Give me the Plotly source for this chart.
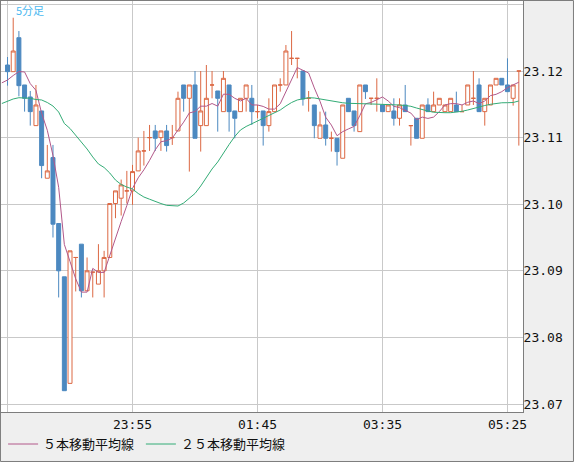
import pandas as pd
import plotly.graph_objects as go

# 5分足 bars, 22:05 -> 05:35
open_ = [23.1209, 23.1199, 23.1250, 23.1179, 23.1161, 23.1118, 23.1140, 23.1039, 23.1070, 23.0971,
         23.0891, 23.0731, 23.0920, 23.0940, 23.0870, 23.0898, 23.0880, 23.0900, 23.0920, 23.1001,
         23.1009, 23.1020, 23.1020, 23.1050, 23.1080, 23.1100, 23.1110, 23.1100, 23.1110, 23.1100,
         23.1110, 23.1179, 23.1159, 23.1179, 23.1118, 23.1118, 23.1179, 23.1170, 23.1139, 23.1179,
         23.1140, 23.1139, 23.1159, 23.1159, 23.1139, 23.1140, 23.1118, 23.1139, 23.1179, 23.1179,
         23.1219, 23.1219, 23.1200, 23.1159, 23.1149, 23.1099, 23.1119, 23.1099, 23.1099, 23.1069,
         23.1159, 23.1140, 23.1109, 23.1179, 23.1159, 23.1159, 23.1149, 23.1139, 23.1140, 23.1129,
         23.1149, 23.1118, 23.1129, 23.1099, 23.1149, 23.1139, 23.1149, 23.1139, 23.1139, 23.1149,
         23.1139, 23.1149, 23.1159, 23.1179, 23.1139, 23.1149, 23.1179, 23.1189, 23.1179, 23.1159,
         23.1200]
high = [23.1221, 23.1280, 23.1260, 23.1179, 23.1170, 23.1179, 23.1140, 23.1089, 23.1089, 23.0971,
        23.0891, 23.0930, 23.0920, 23.0940, 23.0920, 23.0898, 23.0940, 23.0930, 23.1001, 23.1020,
        23.1037, 23.1050, 23.1059, 23.1100, 23.1110, 23.1119, 23.1119, 23.1110, 23.1119, 23.1119,
        23.1169, 23.1179, 23.1179, 23.1200, 23.1200, 23.1209, 23.1200, 23.1170, 23.1200, 23.1179,
        23.1140, 23.1159, 23.1179, 23.1179, 23.1149, 23.1140, 23.1159, 23.1179, 23.1189, 23.1239,
        23.1260, 23.1219, 23.1200, 23.1170, 23.1149, 23.1139, 23.1139, 23.1109, 23.1099, 23.1149,
        23.1159, 23.1140, 23.1179, 23.1179, 23.1159, 23.1189, 23.1149, 23.1149, 23.1159, 23.1159,
        23.1179, 23.1118, 23.1129, 23.1149, 23.1159, 23.1169, 23.1159, 23.1149, 23.1159, 23.1169,
        23.1149, 23.1179, 23.1200, 23.1189, 23.1159, 23.1179, 23.1189, 23.1189, 23.1219, 23.1179,
        23.1200]
low = [23.1178, 23.1199, 23.1162, 23.1139, 23.1118, 23.1118, 23.1039, 23.1039, 23.0950, 23.0860,
       23.0720, 23.0731, 23.0869, 23.0860, 23.0870, 23.0860, 23.0880, 23.0860, 23.0920, 23.0979,
       23.0983, 23.1001, 23.0999, 23.1050, 23.1058, 23.1080, 23.1080, 23.1080, 23.1079, 23.1089,
       23.1110, 23.1139, 23.1049, 23.1099, 23.1079, 23.1118, 23.1159, 23.1109, 23.1139, 23.1109,
       23.1099, 23.1139, 23.1139, 23.1119, 23.1129, 23.1088, 23.1109, 23.1139, 23.1169, 23.1179,
       23.1209, 23.1189, 23.1148, 23.1139, 23.1099, 23.1099, 23.1088, 23.1079, 23.1058, 23.1069,
       23.1139, 23.1109, 23.1109, 23.1158, 23.1149, 23.1139, 23.1139, 23.1139, 23.1118, 23.1118,
       23.1139, 23.1088, 23.1099, 23.1099, 23.1139, 23.1139, 23.1149, 23.1139, 23.1139, 23.1139,
       23.1139, 23.1149, 23.1149, 23.1139, 23.1118, 23.1149, 23.1179, 23.1179, 23.1169, 23.1148,
       23.1088]
close = [23.1199, 23.1230, 23.1178, 23.1159, 23.1139, 23.1149, 23.1058, 23.1050, 23.0970, 23.0900,
         23.0720, 23.0930, 23.0920, 23.0870, 23.0900, 23.0898, 23.0900, 23.0920, 23.1001, 23.1020,
         23.1029, 23.1020, 23.1049, 23.1080, 23.1080, 23.1100, 23.1099, 23.1110, 23.1088, 23.1100,
         23.1159, 23.1159, 23.1179, 23.1099, 23.1140, 23.1159, 23.1179, 23.1159, 23.1189, 23.1139,
         23.1129, 23.1159, 23.1179, 23.1139, 23.1139, 23.1118, 23.1139, 23.1179, 23.1179, 23.1230,
         23.1219, 23.1219, 23.1158, 23.1159, 23.1118, 23.1119, 23.1099, 23.1099, 23.1079, 23.1149,
         23.1139, 23.1118, 23.1179, 23.1169, 23.1159, 23.1159, 23.1139, 23.1149, 23.1129, 23.1149,
         23.1139, 23.1118, 23.1099, 23.1149, 23.1139, 23.1149, 23.1159, 23.1149, 23.1159, 23.1139,
         23.1139, 23.1179, 23.1159, 23.1139, 23.1159, 23.1179, 23.1189, 23.1179, 23.1169, 23.1179,
         23.1200]

# closes of the 5 bars before the visible window (only feed the 5-bar average)
prior_close = [23.11775, 23.11962, 23.11489, 23.11613, 23.12270]

# 25-bar average as drawn, 22:00 -> 05:35
ma25 = [23.11512, 23.11550, 23.11580, 23.11599, 23.11599, 23.11590, 23.11572, 23.11565, 23.11527, 23.11474,
        23.11384, 23.11212, 23.11137, 23.11039, 23.10941, 23.10829, 23.10709, 23.10604, 23.10551, 23.10468,
        23.10363, 23.10296, 23.10258, 23.10228, 23.10161, 23.10108, 23.10075, 23.10040, 23.10010, 23.09983,
        23.09973, 23.09973, 23.10018, 23.10086, 23.10161, 23.10273, 23.10408, 23.10529, 23.10634, 23.10769,
        23.10896, 23.11017, 23.11114, 23.11167, 23.11204, 23.11242, 23.11290, 23.11332, 23.11374, 23.11414,
        23.11474, 23.11527, 23.11565, 23.11587, 23.11599, 23.11595, 23.11580, 23.11565, 23.11547, 23.11530,
        23.11523, 23.11515, 23.11515, 23.11515, 23.11509, 23.11505, 23.11502, 23.11500, 23.11500, 23.11500,
        23.11489, 23.11482, 23.11470, 23.11444, 23.11419, 23.11399, 23.11381, 23.11374, 23.11374, 23.11374,
        23.11381, 23.11395, 23.11414, 23.11440, 23.11459, 23.11482, 23.11500, 23.11512, 23.11523, 23.11524,
        23.11527, 23.11550]

ma_names = ["５本移動平均線", "２５本移動平均線"]
time_ticks = ["2024-03-04 22:05", "2024-03-04 23:55", "2024-03-05 01:45", "2024-03-05 03:35", "2024-03-05 05:25"]
time_text = ["", "23:55", "01:45", "03:35", "05:25"]
price_ticks = [23.07, 23.08, 23.09, 23.10, 23.11, 23.12, 23.13]
price_text = ["23.07", "23.08", "23.09", "23.10", "23.11", "23.12", ""]

UP = "#dc6843"
DOWN = "#4c89c0"
MA5_COLOR = "#b2588a"
MA25_COLOR = "#33ac76"
GRID = "#c9c9c9"
FRAME = "#7d7d7d"

times = pd.date_range("2024-03-04 22:00", periods=len(close) + 1, freq="5min")
bars = pd.DataFrame(dict(t=times[1:], o=open_, h=high, l=low, c=close))
ma5 = pd.Series(prior_close + close).rolling(5).mean().iloc[4:].tolist()

fig = go.Figure()


def add_candles(d, color, fill):
    style = dict(line=dict(color=color, width=1), fillcolor=fill)
    fig.add_trace(go.Candlestick(x=d.t, open=d.o, high=d.h, low=d.l, close=d.c,
                                 increasing=style, decreasing=style, whiskerwidth=0,
                                 showlegend=False, hoverinfo="skip"))


add_candles(bars[bars.c >= bars.o], UP, "white")   # 陽線: hollow
add_candles(bars[bars.c < bars.o], DOWN, DOWN)     # 陰線: filled

# each average gets its own legend box so the two entries sit where the original has them
fig.add_trace(go.Scatter(x=times, y=ma5, mode="lines", name=ma_names[0], legend="legend",
                         line=dict(color=MA5_COLOR, width=1)))
fig.add_trace(go.Scatter(x=times, y=ma25, mode="lines", name=ma_names[1], legend="legend2",
                         line=dict(color=MA25_COLOR, width=1)))

axis_style = dict(showgrid=True, gridcolor=GRID, gridwidth=1, zeroline=False,
                  showline=True, mirror=True, linecolor=FRAME, linewidth=1, ticks="",
                  tickfont=dict(family="DejaVu Sans Mono", size=13, color="#111"))
legend_style = dict(orientation="h", xanchor="left", y=-0.078, yanchor="middle",
                    bgcolor="rgba(0,0,0,0)", itemwidth=30,
                    font=dict(family="Noto Sans CJK JP", size=13, color="#111"))

fig.update_layout(
    width=574, height=462,
    margin=dict(l=1, r=51, t=1, b=50),
    paper_bgcolor="#efefef", plot_bgcolor="white",
    boxgap=0.3, boxgroupgap=0,
    xaxis=dict(type="date", range=["2024-03-04 21:59:15", "2024-03-05 05:38:40"],
               tickmode="array", tickvals=time_ticks, ticktext=time_text,
               rangeslider=dict(visible=False), **axis_style),
    yaxis=dict(side="right", range=[23.0688, 23.13051], ticklabelstandoff=-3,
               tickmode="array", tickvals=price_ticks, ticktext=price_text, **axis_style),
    legend=dict(x=0.004, **legend_style),
    legend2=dict(x=0.268, **legend_style),
    hovermode=False,
)

fig.add_annotation(text="5分足", xref="paper", yref="paper", x=0.025, y=0.978,
                   xanchor="left", yanchor="middle", showarrow=False,
                   font=dict(family="Noto Sans CJK JP", size=11, color="#4ab8f0"))

# outer frame of the whole panel
fig.add_shape(type="rect", xref="paper", yref="paper", x0=-0.001, x1=1.0967,
              y0=-0.1204, y1=1.0012, line=dict(color=FRAME, width=1), layer="above")

# the page body has a default 8px margin; drop it so the 574x462 figure fills the window
fig.write_html("out.html", config={"displayModeBar": False},
               post_script="document.body.style.margin='0';")
